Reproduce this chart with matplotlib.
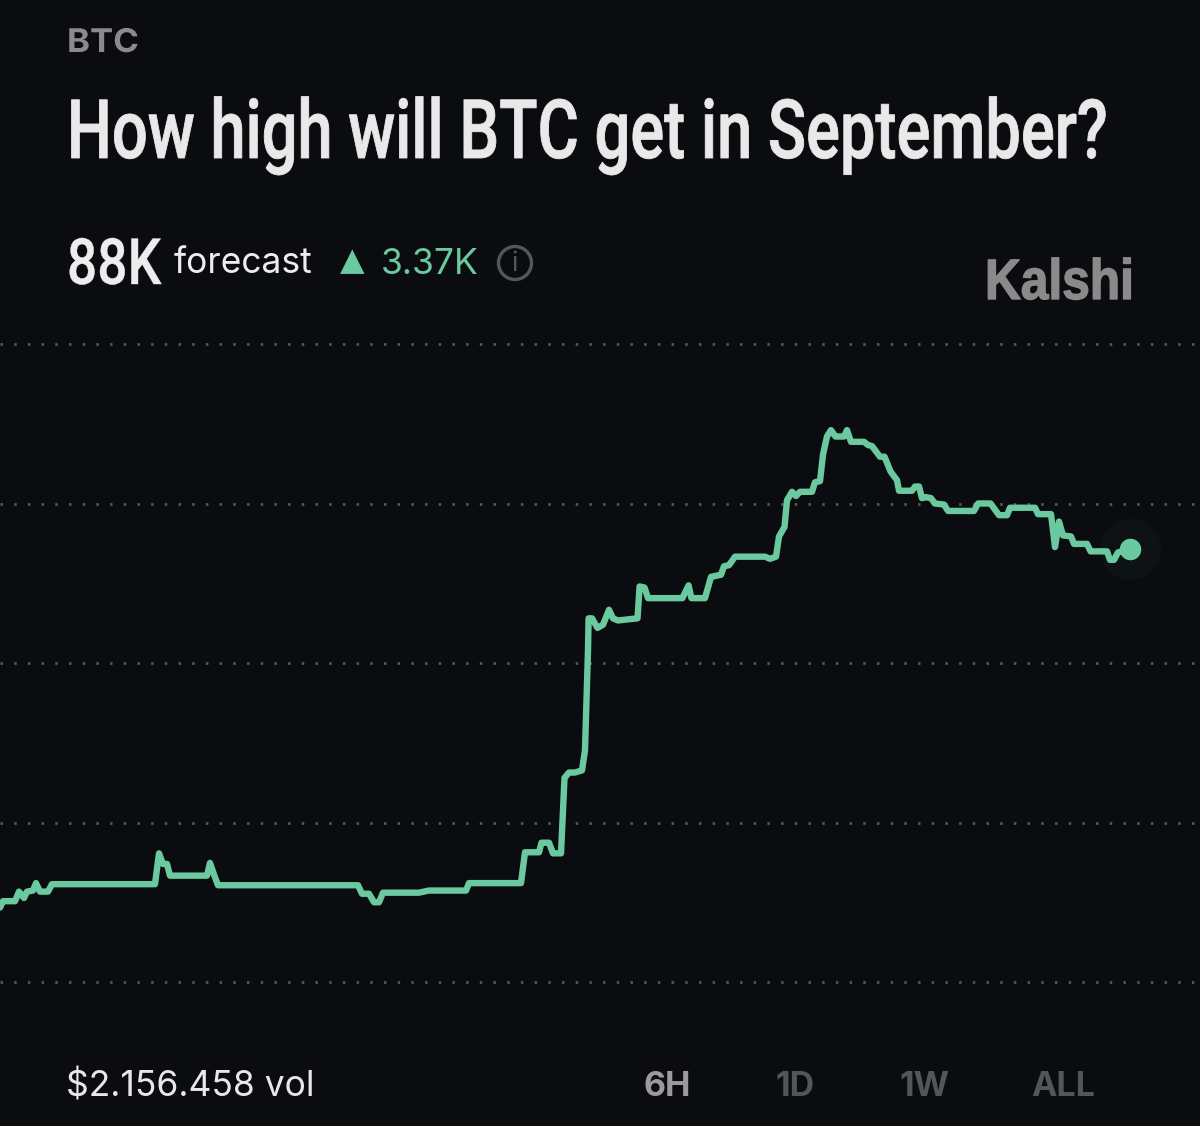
import matplotlib
matplotlib.use("Agg")
import matplotlib.pyplot as plt
from matplotlib.patches import Circle
from matplotlib.patheffects import AbstractPathEffect
from matplotlib.transforms import Affine2D

W, H = 1200, 1126
BG = "#0a0c10"
GREEN = "#6bc99f"

# time axis (arbitrary time units across the 6H window)
time_units = [0, 3, 15, 19, 24, 27, 33, 36, 40, 48, 52, 155, 159, 163, 167, 170, 207, 210, 214, 218,
              358, 362, 369, 374, 379, 383, 419, 429, 466, 469, 521, 525, 539, 541.5, 549, 553, 561,
              564.5, 569, 575, 582, 585, 588, 588.6, 592, 597.5, 603, 609, 613, 618, 637.5, 639.6,
              644.5, 648, 682.4, 688.6, 691.4, 705, 711, 721, 724, 729, 735, 765, 770, 776, 779,
              784.5, 787, 792, 796, 800, 812, 815, 820, 823, 827, 831, 835.5, 844, 847, 851, 864,
              868, 872, 880, 884.5, 890.6, 897, 899, 912, 915, 919, 922, 926, 931, 935, 944, 948,
              974, 978, 990.6, 999, 1007, 1010, 1035, 1038, 1051, 1055, 1059, 1063, 1071, 1074,
              1087, 1090.6, 1107, 1110, 1114, 1118, 1130]
# forecast in thousands of dollars
forecast_k = [84.70, 84.76, 84.76, 84.85, 84.79, 84.85, 84.86, 84.93, 84.85, 84.85, 84.92, 84.92,
              85.21, 85.11, 85.11, 85.00, 85.00, 85.12, 85.01, 84.91, 84.91, 84.83, 84.83, 84.75,
              84.75, 84.84, 84.84, 84.86, 84.86, 84.93, 84.93, 85.22, 85.22, 85.31, 85.31, 85.21,
              85.21, 85.92, 85.97, 85.97, 85.99, 86.18, 87.12, 87.42, 87.42, 87.33, 87.36, 87.50,
              87.42, 87.40, 87.42, 87.72, 87.71, 87.61, 87.61, 87.73, 87.61, 87.61, 87.81, 87.83,
              87.91, 87.92, 88.00, 88.00, 87.98, 88.00, 88.19, 88.28, 88.53, 88.61, 88.57, 88.61,
              88.61, 88.70, 88.71, 88.96, 89.13, 89.19, 89.13, 89.13, 89.19, 89.08, 89.08, 89.05,
              89.04, 88.94, 88.94, 88.80, 88.72, 88.62, 88.62, 88.66, 88.66, 88.55, 88.56, 88.55,
              88.50, 88.49, 88.43, 88.43, 88.50, 88.50, 88.39, 88.39, 88.46, 88.46, 88.40, 88.40,
              88.09, 88.33, 88.20, 88.19, 88.12, 88.12, 88.05, 88.05, 87.97, 87.97, 88.04, 88.07]
grid_values = [84, 85.5, 87, 88.5, 90]
range_labels = ["6H", "1D", "1W", "ALL"]

plt.rcParams["font.family"] = ["Inter", "DejaVu Sans"]
fig = plt.figure(figsize=(W / 100, H / 100), dpi=100, facecolor=BG)
renderer = fig.canvas.get_renderer()


class Squeeze(AbstractPathEffect):
    """Draw a text's outline scaled from its origin, for condensed display faces."""

    def __init__(self, sx, sy=1.0, bolden=0.0):
        super().__init__()
        self.sx, self.sy, self.bolden = sx, sy, bolden

    def draw_path(self, renderer, gc, tpath, affine, rgbFace=None):
        gc0 = renderer.new_gc()
        gc0.copy_properties(gc)
        if self.bolden:
            gc0.set_linewidth(self.bolden)
            gc0.set_foreground(rgbFace)
        renderer.draw_path(gc0, tpath, Affine2D().scale(self.sx, self.sy) + affine, rgbFace)
        gc0.restore()


def fit_text(text, target_width, display_size=None, bolden=0.0):
    """Scale a left-aligned text to a pixel width and, optionally, a display point size."""
    box = text.get_window_extent(renderer)
    sy = display_size / text.get_fontsize() if display_size else 1.0
    text.set_path_effects([Squeeze(target_width / box.width, sy, bolden)])
    return text


ax = fig.add_axes([0, (H - 982) / H, 1, (982 - 344) / H], facecolor=BG)
ax.set_xlim(0, 1200)
ax.set_ylim(84, 90)
for s in ax.spines.values():
    s.set_visible(False)
ax.set_xticks([])
ax.set_yticks(grid_values)
ax.tick_params(left=False, labelleft=False)
ax.grid(axis="y", color="#55565a", lw=2.0, linestyle=(0, (0.9, 4.03)), clip_on=False)
ax.set_axisbelow(True)
ax.plot(time_units, forecast_k, color=GREEN, lw=4.6, solid_joinstyle="round",
        solid_capstyle="round", zorder=3)
ax.plot(time_units[-1], forecast_k[-1], "o", ms=44, mfc="#0d1315", mec="none", zorder=2)
ax.plot(time_units[-1], forecast_k[-1], "o", ms=15.5, mfc=GREEN, mec="none", zorder=4)

ov = fig.add_axes([0, 0, 1, 1], facecolor="none")
ov.set_xlim(0, W)
ov.set_ylim(H, 0)
ov.axis("off")

HEAD = ["Roboto", "Liberation Sans"]
fit_text(ov.text(67, 52, "BTC", color="#8b8b8d", fontsize=23.5, fontweight="bold", va="baseline"), 72)
fit_text(ov.text(67, 158, "How high will BTC get in September?", color="#e9e9ea", fontsize=40,
                 fontweight="medium", va="baseline", family=HEAD), 1040, display_size=59, bolden=0.6)
fit_text(ov.text(67, 284, "88K", color="#ededed", fontsize=46, fontweight="medium", va="baseline",
                 family=HEAD), 94, bolden=0.3)
ov.text(174, 273, "forecast", color="#ededed", fontsize=25.5, va="baseline")
ov.text(352, 262, "▲", color=GREEN, fontsize=23, ha="center", va="center",
        family=["DejaVu Sans"])
ov.text(381, 274, "3.37K", color=GREEN, fontsize=25.5, va="baseline")
ov.add_patch(Circle((515, 263), 16.5, fc="none", ec="#55565a", lw=2.4))
ov.text(515, 264, "i", color="#55565a", fontsize=19, ha="center", va="center")
fit_text(ov.text(985, 299, "Kalshi", color="#8a8a8a", fontsize=41, fontweight="bold",
                 va="baseline", family=["Liberation Sans", "DejaVu Sans"]), 149, bolden=1.0)
ov.text(66, 1096, "$2.156.458 vol", color="#e8e8e8", fontsize=25.5, va="baseline")

for label, cx, col in zip(range_labels, [667, 795, 924, 1063],
                          ["#9b9b9d", "#545557", "#545557", "#545557"]):
    ov.text(cx, 1096, label, color=col, fontsize=24.5, fontweight="bold", ha="center", va="baseline")

fig.savefig("out.png", dpi=100, facecolor=BG)
